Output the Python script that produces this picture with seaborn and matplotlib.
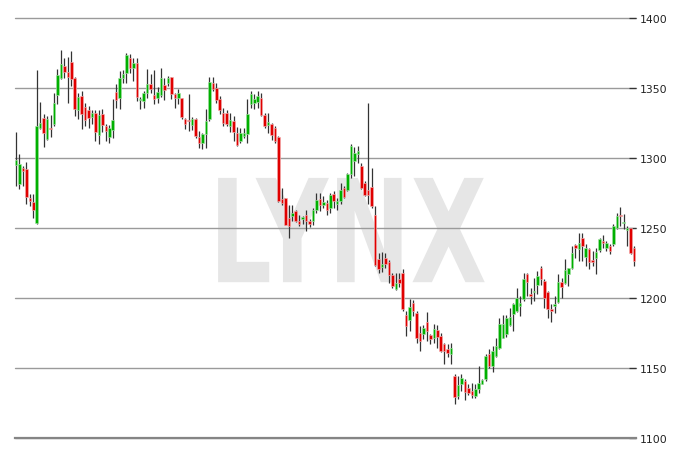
import numpy as np
import pandas as pd
import matplotlib
matplotlib.use("Agg")
import matplotlib.pyplot as plt
from matplotlib.patheffects import AbstractPathEffect
from matplotlib.transforms import Affine2D
import seaborn as sns

opens = [1294.8, 1281.7, 1293.0, 1292.4, 1271.7, 1268.6, 1253.8, 1321.7, 1328.8, 1313.3,
         1321.5, 1324.5, 1344.8, 1356.9, 1366.0, 1361.2, 1368.8, 1356.9, 1334.0, 1344.5,
         1336.7, 1334.0, 1329.3, 1332.1, 1316.4, 1331.7, 1322.9, 1315.2, 1319.8, 1347.4,
         1342.6, 1356.9, 1360.5, 1371.2, 1364.5, 1367.6, 1341.4, 1340.7, 1346.7, 1353.1,
         1345.2, 1343.1, 1345.0, 1351.9, 1353.3, 1357.9, 1345.5, 1343.1, 1342.6, 1327.6,
         1326.9, 1323.3, 1327.6, 1315.2, 1311.0, 1317.4, 1327.6, 1353.8, 1349.8, 1341.9,
         1332.4, 1332.3, 1322.8, 1326.4, 1318.0, 1312.5, 1315.6, 1317.3, 1338.3, 1339.5,
         1340.2, 1342.6, 1330.7, 1323.5, 1324.0, 1321.1, 1315.1, 1270.7, 1271.5, 1257.2,
         1258.3, 1261.9, 1254.8, 1256.4, 1259.5, 1255.2, 1255.2, 1263.1, 1271.0, 1266.7,
         1267.6, 1264.4, 1274.4, 1266.8, 1269.1, 1278.7, 1277.5, 1288.8, 1297.8, 1302.6,
         1294.3, 1282.3, 1277.5, 1279.2, 1259.1, 1227.8, 1221.8, 1228.5, 1225.4, 1216.5,
         1206.7, 1213.8, 1218.1, 1187.9, 1184.0, 1196.7, 1189.5, 1175.2, 1174.5, 1182.9,
         1173.6, 1171.2, 1176.9, 1172.9, 1167.4, 1163.5, 1159.8, 1144.5, 1130.0, 1138.3,
         1140.7, 1135.7, 1133.8, 1130.0, 1134.8, 1138.8, 1142.0, 1159.8, 1151.4, 1158.6,
         1164.5, 1171.7, 1174.5, 1180.7, 1188.3, 1190.7, 1194.3, 1199.0, 1217.4, 1203.1,
         1204.5, 1209.3, 1221.7, 1212.1, 1204.5, 1191.9, 1194.0, 1197.4, 1211.7, 1211.0,
         1217.4, 1221.7, 1237.6, 1234.8, 1243.1, 1229.3, 1234.8, 1226.9, 1228.3, 1234.0,
         1240.7, 1236.0, 1237.1, 1238.3, 1250.2, 1258.8, 1253.6, 1248.6, 1249.8, 1236.0]

highs = [1318.8, 1303.0, 1294.0, 1297.4, 1274.0, 1274.0, 1363.0, 1340.0, 1331.2, 1330.0,
         1331.0, 1346.7, 1363.3, 1377.4, 1371.7, 1372.4, 1376.4, 1357.9, 1346.7, 1347.9,
         1339.5, 1337.0, 1334.0, 1334.0, 1334.0, 1334.8, 1324.5, 1323.6, 1341.9, 1352.6,
         1362.1, 1362.6, 1374.8, 1374.0, 1371.2, 1371.2, 1343.6, 1347.9, 1363.8, 1359.8,
         1362.6, 1350.7, 1364.5, 1357.4, 1358.6, 1357.9, 1346.7, 1349.0, 1343.1, 1328.8,
         1345.5, 1329.0, 1328.8, 1319.3, 1318.1, 1334.8, 1357.9, 1357.9, 1353.8, 1344.3,
         1336.0, 1334.0, 1332.3, 1330.0, 1322.0, 1321.6, 1321.6, 1341.9, 1347.9, 1345.5,
         1347.9, 1346.7, 1332.3, 1332.3, 1325.2, 1322.8, 1315.6, 1278.6, 1271.5, 1266.7,
         1266.7, 1263.1, 1259.5, 1258.3, 1262.6, 1256.4, 1264.3, 1275.0, 1275.0, 1272.6,
         1270.3, 1275.1, 1276.3, 1271.5, 1282.3, 1279.9, 1289.5, 1309.8, 1307.9, 1308.6,
         1296.7, 1283.5, 1339.0, 1293.1, 1265.6, 1232.0, 1232.8, 1232.0, 1227.3, 1217.7,
         1217.7, 1217.7, 1220.5, 1190.7, 1199.0, 1198.3, 1190.7, 1180.0, 1180.7, 1190.2,
         1174.5, 1181.2, 1180.7, 1175.2, 1168.1, 1167.0, 1168.1, 1145.5, 1144.3, 1145.5,
         1142.0, 1138.3, 1139.5, 1138.3, 1151.4, 1141.9, 1160.0, 1163.3, 1165.7, 1171.7,
         1186.0, 1187.9, 1188.0, 1193.1, 1196.7, 1207.4, 1201.4, 1218.1, 1218.1, 1207.4,
         1214.5, 1219.3, 1222.9, 1213.3, 1205.0, 1195.5, 1201.4, 1217.4, 1214.5, 1227.6,
         1221.7, 1237.1, 1238.3, 1246.7, 1246.7, 1238.3, 1236.0, 1233.6, 1236.0, 1243.1,
         1245.0, 1240.7, 1238.3, 1252.6, 1261.0, 1265.0, 1259.8, 1251.4, 1250.2, 1237.1]

lows = [1280.0, 1278.0, 1280.0, 1267.0, 1265.7, 1257.4, 1252.6, 1320.5, 1307.9, 1313.0,
        1315.0, 1322.9, 1338.3, 1356.2, 1357.4, 1339.5, 1351.4, 1330.0, 1327.6, 1320.5,
        1322.9, 1321.7, 1324.0, 1312.0, 1310.2, 1318.8, 1312.1, 1311.0, 1314.5, 1335.5,
        1334.8, 1353.8, 1353.3, 1360.5, 1355.0, 1340.7, 1334.8, 1335.5, 1343.0, 1346.7,
        1338.3, 1339.5, 1343.6, 1341.2, 1351.4, 1342.4, 1336.0, 1338.3, 1327.6, 1320.5,
        1319.0, 1320.0, 1314.5, 1307.4, 1306.2, 1307.4, 1326.4, 1347.9, 1339.5, 1331.2,
        1322.9, 1322.8, 1318.7, 1312.0, 1308.5, 1310.9, 1314.4, 1310.9, 1335.9, 1334.7,
        1335.9, 1330.0, 1321.6, 1318.0, 1313.2, 1310.9, 1268.6, 1266.7, 1251.9, 1242.8,
        1254.8, 1254.3, 1251.2, 1253.0, 1247.6, 1250.7, 1252.0, 1260.7, 1262.0, 1264.0,
        1259.0, 1260.8, 1264.4, 1263.2, 1266.8, 1271.5, 1276.3, 1285.9, 1287.1, 1296.7,
        1278.2, 1272.7, 1267.2, 1264.4, 1223.2, 1217.7, 1218.9, 1221.3, 1210.5, 1207.0,
        1205.8, 1208.1, 1190.7, 1172.9, 1176.4, 1187.0, 1168.1, 1162.1, 1170.5, 1169.3,
        1166.9, 1168.1, 1164.5, 1161.7, 1152.6, 1158.0, 1153.0, 1124.0, 1127.6, 1133.8,
        1127.0, 1131.0, 1128.8, 1128.8, 1132.4, 1138.3, 1140.7, 1150.0, 1146.9, 1157.9,
        1163.3, 1171.2, 1172.0, 1180.0, 1176.4, 1190.2, 1187.1, 1197.9, 1201.4, 1195.5,
        1197.9, 1202.6, 1209.3, 1193.1, 1186.0, 1183.1, 1189.5, 1196.7, 1200.2, 1209.8,
        1208.6, 1220.5, 1228.8, 1226.4, 1226.4, 1222.9, 1220.5, 1222.9, 1217.4, 1233.1,
        1236.0, 1233.6, 1231.2, 1237.1, 1249.0, 1251.4, 1249.0, 1237.1, 1231.7, 1222.9]

closes = [1298.8, 1295.5, 1291.0, 1272.2, 1269.3, 1262.6, 1322.6, 1325.2, 1318.1, 1327.6,
          1320.8, 1339.5, 1359.0, 1367.4, 1361.7, 1357.9, 1356.2, 1334.8, 1343.6, 1331.7,
          1326.9, 1328.8, 1332.4, 1318.8, 1330.7, 1323.3, 1319.3, 1321.2, 1326.9, 1341.2,
          1357.4, 1359.8, 1373.3, 1364.5, 1367.6, 1343.6, 1342.0, 1346.7, 1352.6, 1349.5,
          1342.4, 1347.4, 1357.4, 1348.3, 1357.4, 1346.0, 1343.1, 1346.7, 1329.5, 1324.0,
          1326.2, 1327.6, 1315.7, 1311.0, 1317.4, 1326.4, 1354.5, 1349.0, 1341.2, 1334.0,
          1325.2, 1324.0, 1326.8, 1318.7, 1309.2, 1318.0, 1318.0, 1331.6, 1345.5, 1341.9,
          1344.3, 1330.7, 1322.8, 1325.4, 1316.3, 1312.0, 1269.0, 1267.9, 1252.4, 1251.7,
          1260.7, 1254.8, 1253.1, 1257.9, 1254.8, 1253.1, 1263.1, 1270.3, 1266.7, 1268.4,
          1263.1, 1273.9, 1269.1, 1269.6, 1277.5, 1272.0, 1288.3, 1308.6, 1303.8, 1305.0,
          1278.7, 1273.9, 1273.4, 1265.6, 1223.7, 1220.6, 1224.4, 1224.4, 1216.5, 1208.3,
          1210.5, 1210.8, 1191.9, 1180.0, 1193.6, 1190.7, 1171.7, 1169.3, 1178.3, 1176.4,
          1170.5, 1177.6, 1172.1, 1162.1, 1162.1, 1160.5, 1164.1, 1129.3, 1137.9, 1142.6,
          1133.1, 1132.4, 1130.7, 1134.8, 1139.5, 1141.2, 1158.8, 1151.4, 1162.1, 1165.7,
          1181.7, 1181.2, 1186.0, 1186.4, 1196.0, 1200.3, 1196.7, 1213.3, 1211.7, 1201.2,
          1205.0, 1215.7, 1213.3, 1200.2, 1191.9, 1190.7, 1195.9, 1211.7, 1207.9, 1219.8,
          1221.2, 1232.4, 1236.0, 1239.5, 1237.1, 1236.0, 1226.0, 1225.7, 1233.1, 1241.9,
          1239.0, 1239.0, 1233.6, 1251.4, 1258.6, 1258.3, 1253.9, 1250.2, 1232.4, 1226.4]

y_ticks = [1100, 1150, 1200, 1250, 1300, 1350, 1400]
watermark = "LYNX"

df = pd.DataFrame({"open": opens, "high": highs, "low": lows, "close": closes})
df["idx"] = np.arange(len(df))
df["up"] = df["close"] >= df["open"]

sns.set_theme(style="white")
plt.rcParams["font.family"] = ["DejaVu Sans"]

fig = plt.figure(figsize=(7, 4.6), dpi=100)
ax = fig.add_axes([15 / 700, 1 - 439 / 460, 621 / 700, 420 / 460])
ax.set_facecolor("white")


class XSqueeze(AbstractPathEffect):
    """Narrow the glyphs horizontally around the text anchor."""

    def __init__(self, sx, anchor_func):
        super().__init__()
        self.sx = sx
        self.anchor_func = anchor_func

    def draw_path(self, renderer, gc, tpath, affine, rgbFace=None):
        cx = self.anchor_func()
        t = affine + Affine2D().translate(-cx, 0).scale(self.sx, 1).translate(cx, 0)
        renderer.draw_path(gc, tpath, t, rgbFace)


wm_x, wm_y = 0.536, 0.371
wm = ax.text(wm_x, wm_y, watermark, transform=ax.transAxes, ha="center", va="baseline",
             fontsize=103, fontweight="bold", color="#e6e6e6",
             family=["DejaVu Sans"], zorder=0)
wm.set_path_effects([XSqueeze(0.69, lambda: ax.transAxes.transform((wm_x, wm_y))[0])])

green, red = "#00b000", "#e00000"
green_e, red_e = "#a6e3a6", "#f4b0b0"

ax.vlines(df["idx"], df["low"], df["high"], color="#333333", linewidth=0.9, zorder=2)
body_lo = np.minimum(df["open"], df["close"])
body_h = np.maximum(np.abs(df["close"] - df["open"]), 0.7)
colors = np.where(df["up"], green, red)
edges = np.where(df["up"], green_e, red_e)
ax.bar(df["idx"], body_h, bottom=body_lo, width=0.74, color=colors,
       edgecolor=edges, linewidth=0.45, zorder=3)

ax.set_xlim(-0.29, 179.55)
ax.set_ylim(1100, 1400)
ax.set_yticks(y_ticks)
ax.set_xticks([])
ax.yaxis.tick_right()
ax.tick_params(axis="y", direction="in", length=5, width=0.9, color="#333333",
               pad=3, labelsize=7.8, labelcolor="#222222", right=True, left=False)
ax.grid(axis="y", color="#9a9a9a", linewidth=1.0, zorder=1)
for gl in ax.get_ygridlines():
    gl.set_clip_on(False)
for s in ["top", "left", "right"]:
    ax.spines[s].set_visible(False)
ax.spines["bottom"].set_color("#858585")
ax.spines["bottom"].set_linewidth(1.6)
ax.set_axisbelow(True)

fig.savefig("out.png", dpi=100)
